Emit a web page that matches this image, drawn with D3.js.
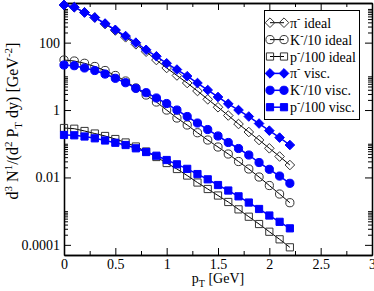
<!DOCTYPE html>
<html>
<head>
<meta charset="utf-8">
<script src="https://cdn.jsdelivr.net/npm/d3@7"></script>
<style>
  body { margin: 0; background: #fff; }
  text { font-family: "Liberation Serif", "Times New Roman", serif; }
</style>
</head>
<body>
<div id="chart"></div>
<script>
const pT = [0, 0.1, 0.2, 0.3, 0.4, 0.5, 0.6, 0.7, 0.8, 0.9, 1.0, 1.1,
            1.2, 1.3, 1.4, 1.5, 1.6, 1.7, 1.8, 1.9, 2.0, 2.1, 2.2];

const piIdeal = [1309, 1126, 794, 557, 357, 229, 144, 89.2, 53.8, 30.5, 17.7, 10.6,
                 6.34, 3.67, 2.08, 1.21, 0.688, 0.385, 0.223, 0.129, 0.0732, 0.0418, 0.0234];
const kIdeal = [30.5, 28.5, 24.4, 19.6, 14.9, 10.6, 7.27, 4.51, 2.79, 1.73, 1.00, 0.580,
                0.360, 0.212, 0.129, 0.080, 0.0496, 0.0297, 0.0178, 0.0103, 0.00576, 0.00322, 0.00178];
const pIdeal = [0.293, 0.279, 0.239, 0.201, 0.170, 0.138, 0.109, 0.0828, 0.0588, 0.0404, 0.0268, 0.0178,
                0.0114, 0.00707, 0.00454, 0.00291, 0.00187, 0.00113, 0.000684, 0.000415, 0.000245, 0.000146, 0.0000845];

const piVisc = [1309, 1126, 784, 557, 370, 240, 157, 100, 61.3, 39.3, 24.4, 15.9,
                10.1, 6.34, 3.93, 2.44, 1.53, 1.00, 0.643, 0.398, 0.245, 0.152, 0.0917];
const kVisc = [21.7, 20.7, 17.7, 14.9, 11.7, 8.74, 6.47, 4.41, 3.27, 2.28, 1.56, 1.00,
               0.643, 0.412, 0.264, 0.170, 0.109, 0.0722, 0.0463, 0.0277, 0.0174, 0.0110, 0.00670];
const pVisc = [0.182, 0.178, 0.164, 0.145, 0.125, 0.107, 0.0917, 0.0732, 0.0568, 0.0441, 0.0329, 0.0245,
               0.0180, 0.0126, 0.00880, 0.00596, 0.00409, 0.00275, 0.00180, 0.00116, 0.000742, 0.000482, 0.000309];

const xTicks = [0, 0.5, 1, 1.5, 2, 2.5, 3];
const xMinor = [0.25, 0.75, 1.25, 1.75, 2.25, 2.75];
const yTicks = [0.0001, 0.01, 1, 100];

const series = [
  { label: ["π", "-", " ideal"],     values: piIdeal, shape: "diamond", filled: false },
  { label: ["K", "-", "/10 ideal"],  values: kIdeal,  shape: "circle",  filled: false },
  { label: ["p", "-", "/100 ideal"], values: pIdeal,  shape: "square",  filled: false },
  { label: ["π", "-", " visc."],     values: piVisc,  shape: "diamond", filled: true },
  { label: ["K", "-", "/10 visc."],  values: kVisc,   shape: "circle",  filled: true },
  { label: ["p", "-", "/100 visc."], values: pVisc,   shape: "square",  filled: true }
];

const width = 374;
const height = 291;
const margin = { top: 3, right: 2, bottom: 36, left: 64 };

const svg = d3.select("#chart")
  .append("svg")
  .attr("width", width)
  .attr("height", height);

const x = d3.scaleLinear()
  .domain([0, 3])
  .range([margin.left, width - margin.right]);

const y = d3.scaleLog()
  .domain([5e-5, 1500])
  .range([height - margin.bottom, margin.top]);

// minor ticks on the log axis: 2..10 times each major
const yMinor = [];
yTicks.forEach(m => {
  for (let k = 2; k <= 10; k++) yMinor.push(m * k);
});

function symbolPath(shape) {
  if (shape === "diamond") return "M0,-4.8L4.8,0L0,4.8L-4.8,0Z";
  if (shape === "square") return "M-3.6,-3.6H3.6V3.6H-3.6Z";
  return d3.arc()({ innerRadius: 0, outerRadius: 4.1, startAngle: 0, endAngle: 2 * Math.PI });
}

const fmt = d => String(d);

// axes, ticks pointing inward
svg.append("g")
  .attr("transform", `translate(0,${y.range()[0]})`)
  .call(d3.axisBottom(x).tickValues(xTicks).tickFormat(fmt).tickSize(-7).tickSizeOuter(0).tickPadding(4));
svg.append("g")
  .attr("transform", `translate(0,${y.range()[0]})`)
  .call(d3.axisBottom(x).tickValues(xMinor).tickFormat("").tickSize(-4).tickSizeOuter(0));

svg.append("g")
  .attr("transform", `translate(0,${margin.top})`)
  .call(d3.axisTop(x).tickValues(xTicks).tickFormat("").tickSize(-7).tickSizeOuter(0));
svg.append("g")
  .attr("transform", `translate(0,${margin.top})`)
  .call(d3.axisTop(x).tickValues(xMinor).tickFormat("").tickSize(-4).tickSizeOuter(0));

svg.append("g")
  .attr("transform", `translate(${margin.left},0)`)
  .call(d3.axisLeft(y).tickValues(yTicks).tickFormat(fmt).tickSize(-7).tickSizeOuter(0).tickPadding(4));
svg.append("g")
  .attr("transform", `translate(${margin.left},0)`)
  .call(d3.axisLeft(y).tickValues(yMinor).tickFormat("").tickSize(-4).tickSizeOuter(0));

svg.append("g")
  .attr("transform", `translate(${width - margin.right},0)`)
  .call(d3.axisRight(y).tickValues(yTicks).tickFormat("").tickSize(-7).tickSizeOuter(0));
svg.append("g")
  .attr("transform", `translate(${width - margin.right},0)`)
  .call(d3.axisRight(y).tickValues(yMinor).tickFormat("").tickSize(-4).tickSizeOuter(0));

svg.selectAll(".domain").attr("stroke", "#000").attr("stroke-width", 1.3);
svg.selectAll(".tick line").attr("stroke", "#000");
svg.selectAll(".tick text")
  .attr("font-family", "Liberation Serif, Times New Roman, serif")
  .attr("font-size", 14)
  .attr("fill", "#000");

// axis titles
const xt = svg.append("text")
  .attr("x", (x.range()[0] + x.range()[1]) / 2)
  .attr("y", 283)
  .attr("text-anchor", "middle")
  .attr("font-size", 14);
xt.append("tspan").text("p");
xt.append("tspan").attr("font-size", 10).attr("dy", 4).text("T");
xt.append("tspan").attr("dy", -4).text(" [GeV]");

const yt = svg.append("text")
  .attr("transform", "translate(18,121) rotate(-90)")
  .attr("text-anchor", "middle")
  .attr("font-size", 16);
[["d", 0], ["3", -6], [" N", 6], ["1", -6], ["/(d", 6], ["2", -6], [" P", 6], ["T", 4],
 [" dy) [GeV", -4], ["-2", -6], ["]", 6]].forEach(([t, dy]) => {
  const small = (dy === -6 || dy === 4);
  yt.append("tspan").attr("dy", dy).attr("font-size", small ? 11 : 16).text(t);
});

// data lines and markers
const line = d3.line()
  .x((d, i) => x(pT[i]))
  .y(d => y(d));

series.forEach(s => {
  const col = s.filled ? "#0000ff" : "#000";
  svg.append("path")
    .datum(s.values)
    .attr("fill", "none")
    .attr("stroke", col)
    .attr("stroke-width", s.filled ? 1.5 : 1)
    .attr("d", line);

  svg.append("g").selectAll("path")
    .data(s.values)
    .enter()
    .append("path")
    .attr("transform", (d, i) => `translate(${x(pT[i])},${y(d)})`)
    .attr("d", symbolPath(s.shape))
    .attr("fill", s.filled ? "#0000ff" : "none")
    .attr("stroke", s.filled ? "#0000ff" : "#333")
    .attr("stroke-width", 1);
});

// legend
const lg = svg.append("g");
lg.append("rect")
  .attr("x", 264.5).attr("y", 10.5)
  .attr("width", 95).attr("height", 109)
  .attr("fill", "#fff")
  .attr("stroke", "#000");

series.forEach((s, i) => {
  const cy = 22.7 + i * 16.9;
  const col = s.filled ? "#0000ff" : "#000";
  lg.append("line")
    .attr("x1", 270).attr("x2", 284)
    .attr("y1", cy).attr("y2", cy)
    .attr("stroke", col)
    .attr("stroke-width", s.filled ? 1.5 : 1);
  [270, 284].forEach(px => {
    lg.append("path")
      .attr("transform", `translate(${px},${cy})`)
      .attr("d", symbolPath(s.shape))
      .attr("fill", s.filled ? "#0000ff" : "none")
      .attr("stroke", s.filled ? "#0000ff" : "#333");
  });
  const t = lg.append("text")
    .attr("x", 290)
    .attr("y", cy + 5)
    .attr("font-size", 14);
  t.append("tspan").text(s.label[0]);
  t.append("tspan").attr("font-size", 10).attr("dy", -6).text(s.label[1]);
  t.append("tspan").attr("dy", 6).text(s.label[2]);
});
</script>
</body>
</html>
